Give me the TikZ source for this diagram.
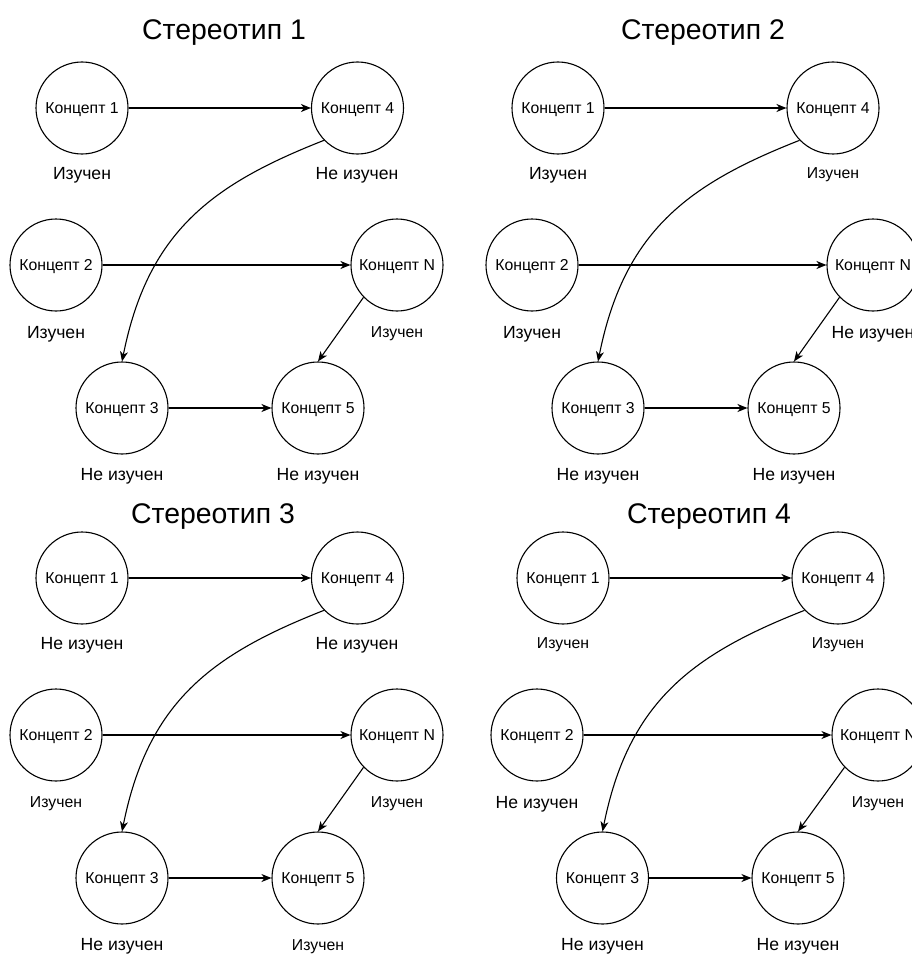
\documentclass[tikz,border=0pt]{standalone}
\usepackage{fontspec}
\setmainfont{Liberation Sans}
\usetikzlibrary{arrows.meta}
\tikzset{
  concept/.style={circle,draw,line width=1.1pt,minimum size=92pt,inner sep=0pt,text depth=0pt,font=\fontsize{15.8}{17}\selectfont},
  biglbl/.style={anchor=base,inner sep=0pt,font=\fontsize{17.6}{19}\selectfont},
  smalllbl/.style={anchor=base,inner sep=0pt,font=\fontsize{15.8}{17}\selectfont},
  ttl/.style={anchor=base,inner sep=0pt,font=\fontsize{28.4}{31}\selectfont},
  link/.style={line width=1.1pt,-{Stealth[length=10pt,width=8pt,inset=3pt]}}
}
\begin{document}
\begin{tikzpicture}[x=1pt,y=-1pt]
\useasboundingbox (0,0) rectangle (912,955);
\clip (0,0) rectangle (912,955);
% ---------- Panel 1 ----------
\node[ttl] (t1) at (224,40) {Стереотип 1};
\node[concept] (a1) at (82,108) {Концепт 1};
\node[concept] (a4) at (357.5,108) {Концепт 4};
\node[concept] (a2) at (56,265) {Концепт 2};
\node[concept] (aN) at (397,265) {Концепт N};
\node[concept] (a3) at (122,408) {Концепт 3};
\node[concept] (a5) at (318,408) {Концепт 5};
\node[biglbl] (al1) at (82,179) {Изучен};
\node[biglbl] (al4) at (357,179) {Не изучен};
\node[biglbl] (al2) at (56,338) {Изучен};
\node[smalllbl] (alN) at (397,337) {Изучен};
\node[biglbl] (al3) at (122,480) {Не изучен};
\node[biglbl] (al5) at (318,480) {Не изучен};
\draw[link] (a1) -- (a4);
\draw[link] (a2) -- (aN);
\draw[link] (a3) -- (a5);
\draw[link] (aN.224) -- (a5.north);
\draw[link] (a4.224) .. controls +(-112,44) and +(26,-130) .. (a3.north);
% ---------- Panel 2 ----------
\node[ttl] (t2) at (703,40) {Стереотип 2};
\node[concept] (b1) at (558,108) {Концепт 1};
\node[concept] (b4) at (833,108) {Концепт 4};
\node[concept] (b2) at (532,265) {Концепт 2};
\node[concept] (bN) at (873,265) {Концепт N};
\node[concept] (b3) at (598,408) {Концепт 3};
\node[concept] (b5) at (794,408) {Концепт 5};
\node[biglbl] (bl1) at (558,179) {Изучен};
\node[smalllbl] (bl4) at (833,178) {Изучен};
\node[biglbl] (bl2) at (532,338) {Изучен};
\node[biglbl] (blN) at (873,338) {Не изучен};
\node[biglbl] (bl3) at (598,480) {Не изучен};
\node[biglbl] (bl5) at (794,480) {Не изучен};
\draw[link] (b1) -- (b4);
\draw[link] (b2) -- (bN);
\draw[link] (b3) -- (b5);
\draw[link] (bN.224) -- (b5.north);
\draw[link] (b4.224) .. controls +(-112,44) and +(26,-130) .. (b3.north);
% ---------- Panel 3 ----------
\node[ttl] (t3) at (213,523) {Стереотип 3};
\node[concept] (c1) at (82,578) {Концепт 1};
\node[concept] (c4) at (357.5,578) {Концепт 4};
\node[concept] (c2) at (56,735) {Концепт 2};
\node[concept] (cN) at (397,735) {Концепт N};
\node[concept] (c3) at (122,878) {Концепт 3};
\node[concept] (c5) at (318,878) {Концепт 5};
\node[biglbl] (cl1) at (82,649) {Не изучен};
\node[biglbl] (cl4) at (357,649) {Не изучен};
\node[smalllbl] (cl2) at (56,807) {Изучен};
\node[smalllbl] (clN) at (397,807) {Изучен};
\node[biglbl] (cl3) at (122,950) {Не изучен};
\node[smalllbl] (cl5) at (318,950) {Изучен};
\draw[link] (c1) -- (c4);
\draw[link] (c2) -- (cN);
\draw[link] (c3) -- (c5);
\draw[link] (cN.224) -- (c5.north);
\draw[link] (c4.224) .. controls +(-112,44) and +(26,-130) .. (c3.north);
% ---------- Panel 4 ----------
\node[ttl] (t4) at (709,523) {Стереотип 4};
\node[concept] (d1) at (563,578) {Концепт 1};
\node[concept] (d4) at (838,578) {Концепт 4};
\node[concept] (d2) at (537,735) {Концепт 2};
\node[concept] (dN) at (878,735) {Концепт N};
\node[concept] (d3) at (602.5,878) {Концепт 3};
\node[concept] (d5) at (798,878) {Концепт 5};
\node[smalllbl] (dl1) at (563,648) {Изучен};
\node[smalllbl] (dl4) at (838,648) {Изучен};
\node[biglbl] (dl2) at (537,808) {Не изучен};
\node[smalllbl] (dlN) at (878,807) {Изучен};
\node[biglbl] (dl3) at (602.5,950) {Не изучен};
\node[biglbl] (dl5) at (798,950) {Не изучен};
\draw[link] (d1) -- (d4);
\draw[link] (d2) -- (dN);
\draw[link] (d3) -- (d5);
\draw[link] (dN.224) -- (d5.north);
\draw[link] (d4.224) .. controls +(-112,44) and +(26,-130) .. (d3.north);
\end{tikzpicture}
\end{document}
